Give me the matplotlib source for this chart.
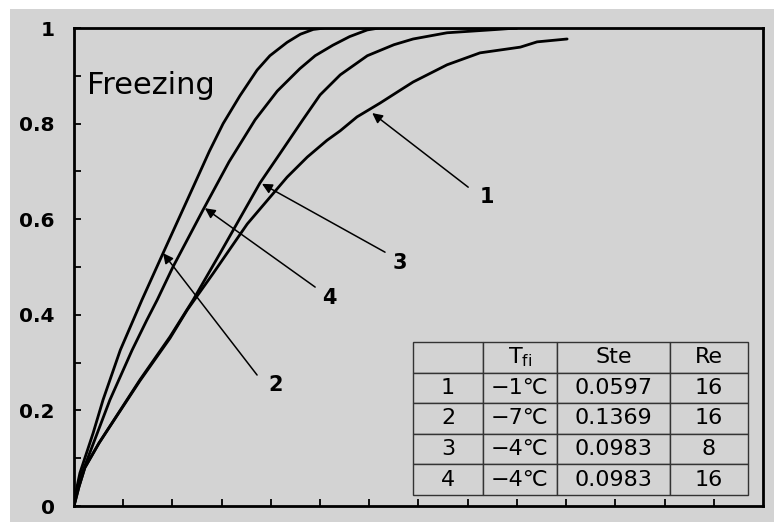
import matplotlib
matplotlib.use("Agg")
import matplotlib.pyplot as plt
from matplotlib.patches import Rectangle
from matplotlib.ticker import MultipleLocator, FixedLocator

plt.rcParams['font.family'] = ['DejaVu Sans']
plt.rcParams['mathtext.fontset'] = 'dejavusans'

# ---- data ----
x_curve1 = [0, 0.1, 0.22, 0.51, 1.34, 1.95, 2.30, 2.83, 3.52, 4.33, 4.74, 5.14, 5.41, 5.75,
            6.22, 6.63, 6.89, 7.58, 8.25, 9.07, 9.41, 10.02]
y_curve1 = [0, 0.04, 0.08, 0.132, 0.262, 0.351, 0.410, 0.487, 0.590, 0.688, 0.730, 0.765,
            0.785, 0.814, 0.843, 0.870, 0.887, 0.923, 0.948, 0.960, 0.971, 0.977]

x_curve2 = [0, 0.05, 0.12, 0.39, 0.59, 0.94, 1.38, 1.81, 2.42, 2.75, 3.03, 3.37, 3.72, 3.98,
            4.33, 4.60, 4.86, 5.10, 9.0]
y_curve2 = [0, 0.035, 0.069, 0.153, 0.222, 0.326, 0.431, 0.529, 0.667, 0.742, 0.800, 0.858,
            0.912, 0.942, 0.970, 0.987, 0.997, 1.0, 1.0]

x_curve3 = [0, 0.1, 0.22, 0.51, 1.34, 1.95, 2.42, 2.97, 3.78, 4.19, 4.65, 5.00, 5.41, 5.96,
            6.50, 6.89, 7.58, 8.6, 9.0]
y_curve3 = [0, 0.04, 0.08, 0.132, 0.264, 0.354, 0.431, 0.529, 0.676, 0.738, 0.808, 0.860,
            0.902, 0.942, 0.965, 0.977, 0.990, 0.997, 1.0]

x_curve4 = [0, 0.06, 0.15, 0.73, 1.18, 1.48, 1.69, 2.01, 2.62, 3.15, 3.68, 4.13, 4.59, 4.90,
            5.26, 5.60, 5.96, 6.20, 9.0]
y_curve4 = [0, 0.035, 0.065, 0.222, 0.326, 0.389, 0.431, 0.500, 0.619, 0.720, 0.808, 0.868,
            0.915, 0.942, 0.964, 0.982, 0.996, 1.0, 1.0]

y_major_ticks = [0, 0.2, 0.4, 0.6, 0.8, 1]
y_tick_labels = ['0', '0.2', '0.4', '0.6', '0.8', '1']

table_header = ['', r'T$_{\mathrm{fi}}$', 'Ste', 'Re']
table_rows = [
    ['1', '\u22121\u2103', '0.0597', '16'],
    ['2', '\u22127\u2103', '0.1369', '16'],
    ['3', '\u22124\u2103', '0.0983', '8'],
    ['4', '\u22124\u2103', '0.0983', '16'],
]

curve_labels = ['1', '2', '3', '4']
# arrow tip (on curve), arrow tail, label position
arrow_tips = [(6.06, 0.822), (1.81, 0.529), (3.82, 0.674), (2.66, 0.623)]
arrow_tails = [(8.01, 0.667), (3.72, 0.274), (6.32, 0.531), (4.90, 0.458)]
label_pos = [(8.39, 0.646), (4.09, 0.253), (6.63, 0.508), (5.18, 0.435)]

# ---- figure ----
W, H = 774, 522
fig = plt.figure(figsize=(W / 100, H / 100), dpi=100)
fig.patch.set_facecolor('white')
bg = '#d3d3d3'
fig.patches.append(Rectangle((10 / W, 0), 1 - 10 / W, (H - 9) / H,
                             transform=fig.transFigure, facecolor=bg,
                             edgecolor='none', zorder=-10))

left, right, top, bottom = 74, 763, 28, 506
ax = fig.add_axes([left / W, (H - bottom) / H, (right - left) / W, (bottom - top) / H])
ax.set_facecolor(bg)

for xs, ys in [(x_curve1, y_curve1), (x_curve2, y_curve2), (x_curve3, y_curve3),
               (x_curve4, y_curve4)]:
    ax.plot(xs, ys, color='black', lw=2.0, solid_joinstyle='round', solid_capstyle='round')

ax.set_xlim(0, 14)
ax.set_ylim(0, 1)
for s in ax.spines.values():
    s.set_linewidth(2)
    s.set_color('black')

ax.xaxis.set_major_locator(FixedLocator(list(range(1, 14))))
ax.set_xticklabels([])
ax.yaxis.set_major_locator(FixedLocator(y_major_ticks))
ax.set_yticklabels(y_tick_labels, fontsize=14.5, fontweight='bold')
ax.yaxis.set_minor_locator(MultipleLocator(0.1))
ax.tick_params(axis='both', which='both', direction='in', length=5, width=1.3,
               top=False, right=False, color='black')
ax.tick_params(axis='y', which='major', pad=14)

ax.text(0.26, 0.862, 'Freezing', fontsize=22, va='baseline', ha='left')

for lab, tip, tail, lp in zip(curve_labels, arrow_tips, arrow_tails, label_pos):
    ax.annotate('', xy=tip, xytext=tail,
                arrowprops=dict(arrowstyle='-|>', color='black', lw=1.1,
                                mutation_scale=15, shrinkA=0, shrinkB=0))
    ax.text(lp[0], lp[1], lab, fontsize=15, fontweight='bold', ha='center', va='center')

# ---- table ----
tx0, tx1, ty0, ty1 = 413, 748, 342, 495
bbox = [(tx0 - left) / (right - left), (bottom - ty1) / (bottom - top),
        (tx1 - tx0) / (right - left), (ty1 - ty0) / (bottom - top)]
col_w = [70, 74, 113, 78]
tbl = ax.table(cellText=table_rows, colLabels=table_header, colWidths=[c / sum(col_w) for c in col_w],
               cellLoc='center', bbox=bbox)
tbl.auto_set_font_size(False)
for (r, c), cell in tbl.get_celld().items():
    cell.set_facecolor(bg)
    cell.set_edgecolor('#333333')
    cell.set_linewidth(1.0)
    cell.get_text().set_fontsize(16)

fig.savefig('out.png', dpi=100, facecolor=fig.get_facecolor())
